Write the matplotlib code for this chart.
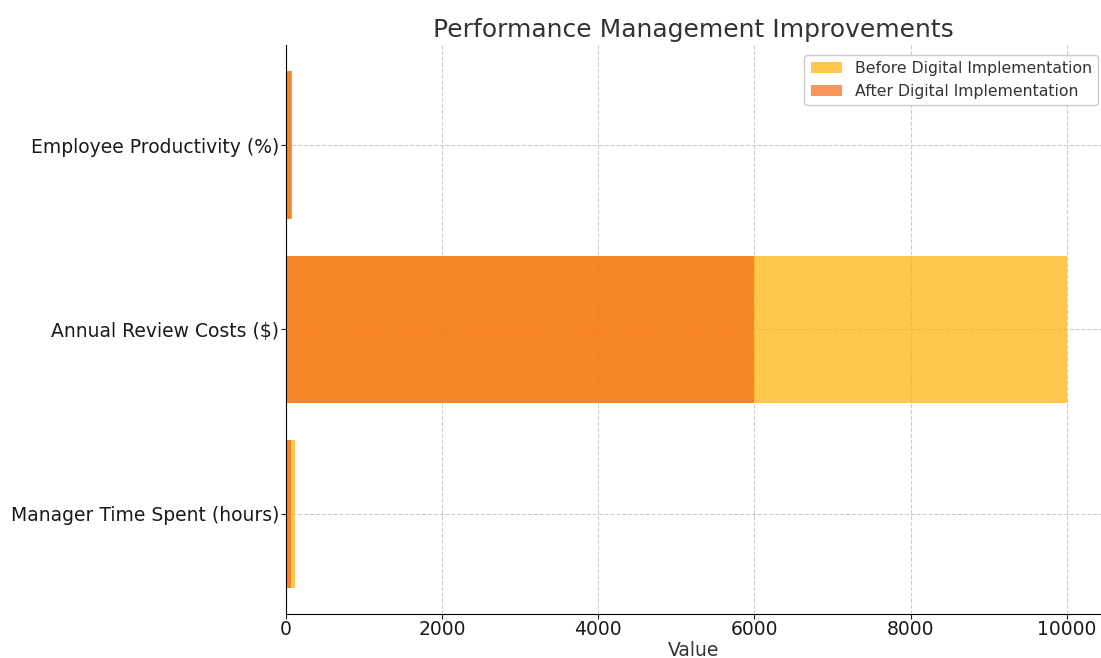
import matplotlib
matplotlib.use("Agg")
import matplotlib.pyplot as plt

categories = ["Manager Time Spent (hours)", "Annual Review Costs ($)", "Employee Productivity (%)"]
before = [120, 10000, 70]
after = [60, 6000, 80]
xticks = [0, 2000, 4000, 6000, 8000, 10000]

fig = plt.figure(figsize=(11.01, 6.58), dpi=100)
ax = fig.add_axes([286/1101, (658-613.5)/658, (1101-286)/1101, (613.5-45.4)/658])

ax.barh(categories, before, color="#FFB000", alpha=0.7, label="Before Digital Implementation", height=0.8)
ax.barh(categories, after, color="#F66919", alpha=0.7, label="After Digital Implementation", height=0.8)

ax.set_xlim(0, 10440)
ax.set_xticks(xticks)
ax.grid(True, linestyle="--", color="#cccccc", linewidth=0.8)
ax.set_axisbelow(True)
for s in ["top", "right"]:
    ax.spines[s].set_visible(False)
ax.tick_params(labelsize=13.5, colors="#1a1a1a", pad=1.5)
ax.set_xlabel("Value", fontsize=13.5, color="#333333", labelpad=1)
ax.set_title("Performance Management Improvements", fontsize=18, color="#333333", pad=6)
leg = ax.legend(loc="upper right", fontsize=11.3, framealpha=1, edgecolor="#cccccc",
                bbox_to_anchor=(1.006, 0.997))
for t in leg.get_texts():
    t.set_color("#333333")

fig.savefig("out.png", dpi=100)
